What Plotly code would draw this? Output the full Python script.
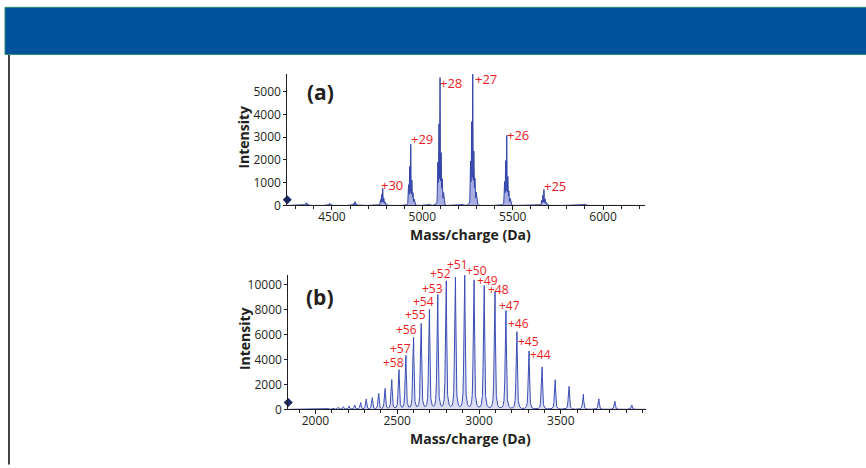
import numpy as np
import plotly.graph_objects as go

# ---------------- data ----------------
# Panel (a): labelled charge-state envelopes
a_major_mass = [4781, 4936, 5098, 5279, 5467, 5673]
a_major_int = [750, 2690, 5620, 5770, 3080, 705]
a_major_label = ["+30", "+29", "+28", "+27", "+26", "+25"]
# Panel (a): small unlabelled peaks
a_minor_mass = [4361, 4489, 4628, 5040, 5222, 5900]
a_minor_int = [120, 90, 170, 60, 60, 70]

# Panel (b): charge-state series
b_charge = [70, 69, 68, 67, 66, 65, 64, 63, 62, 61, 60, 59, 58, 57, 56, 55, 54,
            53, 52, 51, 50, 49, 48, 47, 46, 45, 44, 43, 42, 41, 40, 39, 38, 37]
b_mass = [2080, 2111, 2140, 2172, 2206, 2241, 2277, 2311, 2348, 2387, 2426, 2467,
          2511, 2553, 2600, 2647, 2697, 2748, 2800, 2856, 2913, 2970, 3032, 3098,
          3165, 3232, 3306, 3386, 3466, 3551, 3638, 3733, 3831, 3935]
b_int = [80, 120, 170, 210, 260, 340, 530, 810, 920, 1260, 1650, 2360,
         3150, 4290, 5720, 6840, 7950, 9150, 10260, 10550, 10740, 10340, 9890, 9420,
         7890, 6210, 4660, 3390, 2370, 1840, 1210, 840, 650, 340]
b_labelled = [58, 57, 56, 55, 54, 53, 52, 51, 50, 49, 48, 47, 46, 45, 44]

a_xticks = [4500, 5000, 5500, 6000]
a_yticks = [0, 1000, 2000, 3000, 4000, 5000]
b_xticks = [2000, 2500, 3000, 3500]
b_yticks = [0, 2000, 4000, 6000, 8000, 10000]

# ---------------- layout / style settings ----------------
W, H = 866, 468
FONT = "Open Sans"
INK = "#231f20"
RED = "#ed1c24"

# label offsets (pixels) relative to each peak top
a_lab_dx = [9.3, 10.8, 11, 12.8, 11.3, 11.5]
a_lab_dy = [3.7, 5.7, -5, -4.7, 0.7, 3.7]
b_lab_dx = [-5.5, -5.7, -7.5, -6.2, -5.7, -5.5, -5.7, 2.3, 11.5, 13.2, 14.7, 14, 12.5, 12, 11.5]
b_lab_dy = [8, 7.7, 8.3, 9.8, 8.5, 7, 8, 13, 5.5, 0, -3.5, -13.3, -12, -9.7, -3]

# peak shape components (offset in Da, relative height, kind, width)
a_shape = [(0, 1.0, "g", 1.4), (-6, 0.62, "g", 1.4), (-12, 0.32, "g", 1.8),
           (6, 0.38, "g", 1.5), (12, 0.18, "g", 1.8), (20, 0.09, "g", 2.2),
           (0, 0.07, "g", 12.0)]
b_shape = [(0, 1.0, "l", 2.3), (-5, 0.5, "l", 2.3), (0, 0.05, "g", 9.0)]


def kernel(d, kind, w):
    if kind == "g":
        return np.exp(-0.5 * (d / w) ** 2)
    return w ** 2 / (d ** 2 + w ** 2)


def spectrum(grid, centers, heights, comps):
    y = np.zeros_like(grid)
    for c, h in zip(centers, heights):
        s = np.zeros_like(grid)
        for off, rh, kind, w in comps:
            s += rh * kernel(grid - c - off, kind, w)
        y += h * s / s.max()
    return y


a_range = [4253, 6232]
b_range = [1834, 4021]
a_yrange = [0, 5790]
b_yrange = [0, 10770]

ga = np.arange(a_range[0], a_range[1], 0.3)
ya = spectrum(ga, a_major_mass + a_minor_mass, a_major_int + a_minor_int, a_shape)
gb = np.arange(b_range[0], b_range[1], 0.4)
yb = spectrum(gb, b_mass, b_int, b_shape)

fig = go.Figure()
fig.add_trace(go.Scatter(x=ga, y=ya, mode="lines", xaxis="x", yaxis="y",
                         line=dict(color="#3345a8", width=1),
                         fill="tozeroy", fillcolor="rgba(110,120,205,0.6)",
                         hoverinfo="skip"))
fig.add_trace(go.Scatter(x=gb, y=yb, mode="lines", xaxis="x2", yaxis="y2",
                         line=dict(color="#3a4db5", width=1),
                         fill="tozeroy", fillcolor="rgba(110,120,205,0.25)",
                         hoverinfo="skip"))
# zero markers on the intensity axes
fig.add_trace(go.Scatter(x=[a_range[0]], y=[250], mode="markers", xaxis="x", yaxis="y",
                         marker=dict(symbol="diamond", size=7, color="#1c2a6b"),
                         cliponaxis=False, hoverinfo="skip"))
fig.add_trace(go.Scatter(x=[b_range[0]], y=[550], mode="markers", xaxis="x2", yaxis="y2",
                         marker=dict(symbol="diamond", size=7, color="#1c2a6b"),
                         cliponaxis=False, hoverinfo="skip"))


def px_x(p):
    return p / W


def px_y(p):
    return 1 - p / H


tickfont = dict(family=FONT, size=12, color=INK)
common_x = dict(showline=True, linecolor=INK, linewidth=1, showgrid=False, zeroline=False,
                ticks="outside", ticklen=4, tickcolor=INK, tickfont=tickfont,
                ticklabelstandoff=-4,
                minor=dict(dtick=100, tick0=0, ticks="outside", ticklen=3, tickcolor=INK))
common_y = dict(showline=True, linecolor=INK, linewidth=1, showgrid=False, zeroline=False,
                ticks="outside", ticklen=3, tickcolor=INK, tickfont=tickfont)

fig.update_layout(
    width=W, height=H, margin=dict(l=0, r=0, t=0, b=0),
    paper_bgcolor="white", plot_bgcolor="white", showlegend=False,
    xaxis=dict(domain=[px_x(287.3), px_x(645)], anchor="y", range=a_range,
               tickvals=a_xticks, ticktext=[str(v) for v in a_xticks], **common_x),
    yaxis=dict(domain=[px_y(209), px_y(75)], anchor="x", range=a_yrange,
               tickvals=a_yticks, ticktext=[str(v) for v in a_yticks], **common_y),
    xaxis2=dict(domain=[px_x(288.3), px_x(646)], anchor="y2", range=b_range,
                tickvals=b_xticks, ticktext=[str(v) for v in b_xticks], **common_x),
    yaxis2=dict(domain=[px_y(416.5), px_y(280)], anchor="x2", range=b_yrange,
                tickvals=b_yticks, ticktext=[str(v) for v in b_yticks], **common_y),
)

# header band and left rule
fig.add_shape(type="rect", xref="paper", yref="paper", x0=px_x(5), x1=1.01,
              y0=px_y(55.5), y1=px_y(7.5), fillcolor="#00529b",
              line=dict(color="#2b8a73", width=1))
fig.add_shape(type="line", xref="paper", yref="paper", x0=px_x(9), x1=px_x(9),
              y0=px_y(56), y1=-0.01, line=dict(color="#444444", width=2))

ann = []
lab_font = dict(family=FONT, size=12, color=RED)
# charge labels panel (a)
for m, h, t, dx, dy in zip(a_major_mass, a_major_int, a_major_label, a_lab_dx, a_lab_dy):
    ann.append(dict(x=m, y=h, xref="x", yref="y", text=t, showarrow=False,
                    xanchor="center", yanchor="middle", xshift=dx, yshift=dy,
                    borderpad=0, font=dict(family=FONT, size=13, color=RED)))
# charge labels panel (b)
for z, dx, dy in zip(b_labelled, b_lab_dx, b_lab_dy):
    i = b_charge.index(z)
    ann.append(dict(x=b_mass[i], y=b_int[i], xref="x2", yref="y2", text="+%d" % z,
                    showarrow=False, xanchor="center", yanchor="middle",
                    xshift=dx, yshift=dy, borderpad=0, font=lab_font))
# axis titles and panel letters
title_font = dict(family=FONT, size=14, color=INK)
for ytxt in (140, 345):
    ann.append(dict(x=px_x(244), y=px_y(ytxt), xref="paper", yref="paper",
                    text="<b>Intensity</b>", textangle=-90, showarrow=False,
                    xanchor="center", yanchor="middle", font=title_font))
for ytxt in (239, 446):
    ann.append(dict(x=px_x(470), y=px_y(ytxt), xref="paper", yref="paper",
                    text="<b>Mass/charge (Da)</b>", showarrow=False,
                    xanchor="center", yanchor="middle", font=title_font))
for txt, ytxt in (("(a)", 94), ("(b)", 302)):
    ann.append(dict(x=px_x(320), y=px_y(ytxt), xref="paper", yref="paper",
                    text="<b>%s</b>" % txt, showarrow=False,
                    xanchor="center", yanchor="middle",
                    font=dict(family=FONT, size=21, color=INK)))
fig.update_layout(annotations=ann)

fig.write_html("out.html")
